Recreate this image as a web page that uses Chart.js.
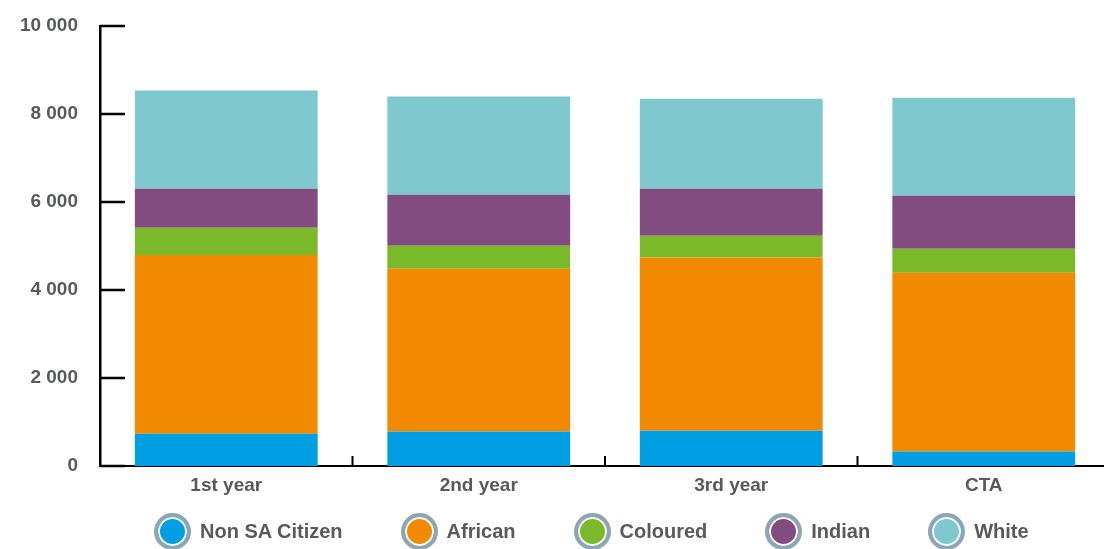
<!DOCTYPE html>
<html>
<head>
<meta charset="utf-8">
<script src="https://cdn.jsdelivr.net/npm/chart.js@4/dist/chart.umd.min.js"></script>
<style>
  html, body { margin: 0; padding: 0; background: #fff; overflow: hidden; }
  #wrap { position: relative; width: 1110px; height: 549px; }
  #legend {
    position: absolute; left: 154px; top: 513px;
    display: flex; align-items: center; gap: 58px;
    font-family: 'Liberation Sans', Arial, sans-serif; font-weight: bold;
    font-size: 20px; color: #58595b;
  }
  .item { display: flex; align-items: center; }
  .dot {
    width: 29px; height: 29px; border-radius: 50%;
    border: 4px solid #8ba6b6; box-shadow: inset 0 0 0 2px #fff;
    margin-right: 9px;
  }
</style>
</head>
<body>
<div id="wrap">
  <canvas id="chart"></canvas>
  <div id="legend"></div>
</div>
<script>
// categories and series
const categories = ['1st year', '2nd year', '3rd year', 'CTA'];
const seriesNames = ['Non SA Citizen', 'African', 'Coloured', 'Indian', 'White'];
const seriesColors = ['#009fe3', '#f18a00', '#7ab929', '#834c80', '#7ec8ce'];
const nonSA    = [734, 786, 802, 332];
const african  = [4061, 3698, 3939, 4061];
const coloured = [621, 523, 493, 546];
const indian   = [886, 1159, 1068, 1204];
const white    = [2234, 2234, 2046, 2227];
const yTicks = [0, 2000, 4000, 6000, 8000, 10000];

const seriesData = [nonSA, african, coloured, indian, white];

Chart.defaults.font.family = "'Liberation Sans', Arial, sans-serif";

function fmt(v) {
  return String(v).replace(/\B(?=(\d{3})+(?!\d))/g, ' ');
}

// inward ticks on y axis, upward category dividers on x axis
const axisTicks = {
  id: 'axisTicks',
  afterDraw(chart) {
    const {ctx, chartArea, scales: {x, y}} = chart;
    ctx.save();
    ctx.strokeStyle = '#000';
    ctx.lineWidth = 2.5;
    ctx.beginPath();
    y.ticks.forEach(t => {
      const py = y.getPixelForValue(t.value);
      ctx.moveTo(chartArea.left, py);
      ctx.lineTo(chartArea.left + 25, py);
    });
    ctx.stroke();
    ctx.lineWidth = 2;
    ctx.beginPath();
    for (let i = 1; i < categories.length; i++) {
      const px = (x.getPixelForValue(i - 1) + x.getPixelForValue(i)) / 2;
      ctx.moveTo(px, chartArea.bottom);
      ctx.lineTo(px, chartArea.bottom - 10);
    }
    ctx.stroke();
    ctx.restore();
  }
};

new Chart(document.getElementById('chart'), {
  type: 'bar',
  data: {
    labels: categories,
    datasets: seriesNames.map((name, i) => ({
      label: name,
      data: seriesData[i],
      backgroundColor: seriesColors[i],
      borderWidth: 0,
      categoryPercentage: 1,
      barPercentage: 0.724
    }))
  },
  options: {
    responsive: true,
    maintainAspectRatio: false,
    animation: false,
    layout: { padding: { top: 26, right: 0, left: 0, bottom: 0 } },
    plugins: {
      legend: { display: false },
      tooltip: { enabled: false }
    },
    scales: {
      x: {
        stacked: true,
        afterFit: s => { s.height = 83; },
        grid: { display: false, drawTicks: false },
        border: { display: true, color: '#000', width: 2 },
        ticks: {
          padding: 8,
          color: '#58595b',
          font: { size: 19, weight: 'bold' }
        }
      },
      y: {
        stacked: true,
        min: 0,
        max: 10000,
        afterFit: s => { s.width = 100; s.paddingTop = 0; s.paddingBottom = 0; },
        afterBuildTicks: s => { s.ticks = yTicks.map(v => ({ value: v })); },
        grid: { display: false, drawTicks: false },
        border: { display: true, color: '#000', width: 2.5 },
        ticks: {
          padding: 22,
          color: '#58595b',
          font: { size: 19, weight: 'bold' },
          callback: v => fmt(v)
        }
      }
    }
  },
  plugins: [axisTicks]
});

// legend
const legend = document.getElementById('legend');
seriesNames.forEach((name, i) => {
  const item = document.createElement('div');
  item.className = 'item';
  item.innerHTML = `<span class="dot" style="background:${seriesColors[i]}"></span><span>${name}</span>`;
  legend.appendChild(item);
});
</script>
</body>
</html>
